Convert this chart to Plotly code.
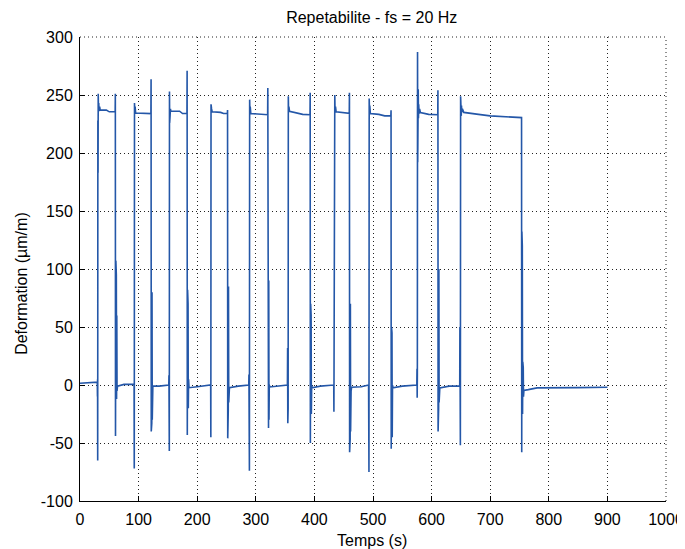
import plotly.graph_objects as go

# Temps (s) and deformation (µm/m), cycle by cycle
temps = [
    # cycle 1
    0, 15, 29.5, 29.8, 30.0, 30.2, 30.5, 30.8, 31.1, 31.5, 32.0, 32.5, 33.5, 34.5, 45, 50, 60.0, 60.3, 60.6,
    61.2, 61.6, 62.0, 62.4, 62.8, 63.2, 64, 75,
    # cycle 2
    92.3, 92.6, 93.0, 93.4, 94, 95, 110, 121.0, 121.3, 121.6, 122.1, 122.5, 122.9, 123.3, 123.7, 124.3, 135,
    # cycle 3
    151.5, 151.8, 152.0, 152.2, 152.4, 152.7, 153.0, 153.3, 153.7, 154.3, 155, 170, 175, 182.5, 182.8, 183.1,
    183.6, 184.0, 184.4, 184.8, 185.3, 186, 200,
    # cycle 4
    223.0, 223.3, 223.6, 224.0, 224.5, 225.5, 240, 245, 251.5, 251.8, 252.1, 252.6, 253.0, 253.4, 253.8, 254.3,
    255, 270,
    # cycle 5
    288.0, 288.3, 288.6, 288.9, 289.1, 289.5, 289.9, 290.5, 291.5, 305, 320.2, 320.5, 320.8, 321.3, 321.7,
    322.1, 322.5, 323, 324, 340,
    # cycle 6
    354.0, 354.3, 354.6, 354.9, 355.2, 355.5, 355.9, 356.5, 357.5, 370, 380, 392.5, 392.8, 393.1, 393.6,
    394.0, 394.4, 394.8, 395.3, 396, 410,
    # cycle 7
    433.0, 433.3, 433.6, 433.9, 434.2, 434.5, 434.8, 435.2, 436, 437, 450, 459.5, 459.8, 460.1, 460.6, 461.0,
    461.4, 461.8, 462.2, 462.6, 463.5, 480,
    # cycle 8
    492.5, 492.8, 493.1, 493.5, 493.9, 494.5, 495.5, 510, 520, 530.5, 530.8, 531.1, 531.6, 532.0, 532.4,
    532.8, 533.3, 534, 550,
    # cycle 9
    574.8, 575.1, 575.4, 575.7, 576.0, 576.3, 576.6, 576.9, 577.2, 577.6, 578, 578.6, 579.5, 581, 595, 610.5,
    610.8, 611.1, 611.6, 612.0, 612.4, 612.8, 613.3, 614, 630,
    # cycle 10 and rest
    648.0, 648.3, 648.6, 648.9, 649.1, 649.5, 649.8, 650.2, 650.6, 651, 651.5, 652.5, 655, 665, 680, 700, 720,
    740, 753.5, 753.8, 754.1, 754.4, 754.8, 755.2, 755.6, 756.0, 756.4, 756.8, 757.5, 765, 780, 850, 900,
]

deformation = [
    # cycle 1
    1.5, 2, 2.5, -10, 5, -65, 228, 183, 251, 238, 243, 236, 240, 237, 237, 235.5, 235.5, 251, -44,
    107, -18, 95, -12, 60, -5, -1, 0.5,
    # cycle 2
    0.5, -72, 243, 236, 240, 234.5, 234.5, 234, 263.5, -40, 92, -33, 80, -30, 30, -1, -1,
    # cycle 3
    0, 8.5, -10, 8, -57, 253, 226, 244, 232, 238, 236, 236, 234, 234, 271, -43,
    82, -27, 70, -20, 5, -2.3, -1.5,
    # cycle 4
    0, -45, 242, 234, 238, 235.6, 235, 234, 234, 237, -46, 97, -22, 85, -15, 0,
    -2.3, -1,
    # cycle 5
    0, 9, -28, 8, -74, 246, 236, 240, 234, 233.5, 233, 256, -34, 112, -37,
    90, -30, 0, -1.7, -1,
    # cycle 6
    0, 32, -33, 10, -20, 249, 236, 240, 236, 234.5, 233.3, 233, 252, -50, 70,
    -33, 60, -25, 0, -2.5, -1,
    # cycle 7
    0, -23, 185, 125, 180, 130, 250, 237, 240, 235.6, 235, 234.2, 252, -58, 82, -47,
    70, -40, 20, -5, -2, -1.5,
    # cycle 8
    0, 142, -75, 247, 238, 241, 234, 233.3, 232, 232, 236.8, -55, 50, -52, 45,
    -45, 0, -2.5, -1,
    # cycle 9
    0, 14, -11, 10, 287, 192, 263, 200, 255, 230, 242, 234, 238, 234.8, 233.3, 233,
    254, -40, 124, -20, 100, -15, 0, -2.5, -1,
    # cycle 10 and rest
    -1, 50, -25, 40, -52, 249, 238, 245, 232, 241, 235, 238, 235, 234.5, 233.3, 232, 231.5,
    230.5, 230.5, -58, 132, -30, 120, -25, 20, -12, 15, -10, -4.6, -4, -2.5, -2.3, -2,
]

x_ticks = [0, 100, 200, 300, 400, 500, 600, 700, 800, 900, 1000]
y_ticks = [-100, -50, 0, 50, 100, 150, 200, 250, 300]

FONT = "Liberation Sans, Arial, sans-serif"
FS = 16

fig = go.Figure(
    go.Scatter(
        x=temps, y=deformation, mode="lines",
        line=dict(color="#2457a8", width=1.6),
        hoverinfo="skip",
    )
)

axis_common = dict(
    showline=True, linecolor="black", linewidth=1, mirror=False,
    ticks="inside", ticklen=5, tickcolor="black", tickwidth=1,
    showgrid=True, gridcolor="#222222", gridwidth=1, griddash="1px,3px",
    zeroline=False, tickfont=dict(family=FONT, size=FS, color="black"),
    automargin=False,
)

fig.update_layout(
    width=685, height=549,
    margin=dict(l=72, r=27, t=29, b=56),
    paper_bgcolor="white", plot_bgcolor="white",
    showlegend=False,
    title=dict(text="Repetabilite - fs = 20 Hz", x=0.531, xanchor="center", y=0.982, yanchor="middle",
               font=dict(family=FONT, size=FS, color="black")),
    xaxis=dict(range=[0, 1000], tickvals=x_ticks, ticktext=[str(v) for v in x_ticks],
               ticklabelstandoff=4, **axis_common),
    yaxis=dict(range=[-100, 300], tickvals=y_ticks, ticktext=[str(v) for v in y_ticks],
               ticklabelstandoff=3, **axis_common),
    annotations=[
        dict(text="Temps (s)", xref="paper", yref="paper", x=0.499, y=-0.0862,
             xanchor="center", yanchor="middle", showarrow=False,
             font=dict(family=FONT, size=FS, color="black")),
        dict(text="Deformation (µm/m)", xref="paper", yref="paper", x=-0.0991, y=0.470,
             xanchor="center", yanchor="middle", textangle=-90, showarrow=False,
             font=dict(family=FONT, size=FS, color="black")),
    ],
)

# dotted top/right frame (grid lines at the range edges, as in the reference)
fig.add_shape(type="line", xref="paper", yref="paper", x0=0, x1=1, y0=1, y1=1,
              line=dict(color="#222222", width=1, dash="1px,3px"))
fig.add_shape(type="line", xref="paper", yref="paper", x0=1, x1=1, y0=0, y1=1,
              line=dict(color="#222222", width=1, dash="1px,3px"))

fig.write_html("out.html")
